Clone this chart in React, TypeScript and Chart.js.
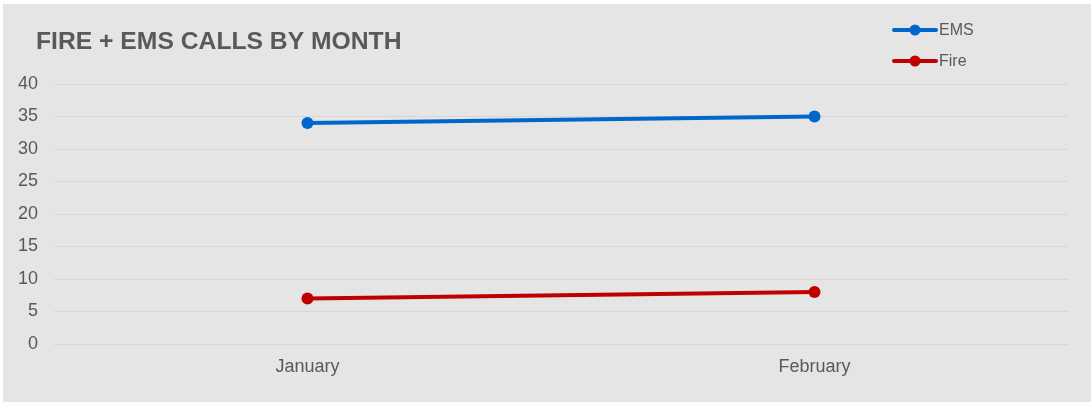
import React, { useEffect, useRef } from "react";
import { Chart, registerables } from "chart.js";

Chart.register(...registerables);

const months = ["January", "February"];
const emsCalls = [34, 35];
const fireCalls = [7, 8];
const yTicks = [0, 5, 10, 15, 20, 25, 30, 35, 40];
const titleText = "FIRE + EMS CALLS BY MONTH";

const BLUE = "#0066CC";
const RED = "#C00000";
const TEXT = "#595959";
const BG = "#E5E5E5";
const GRID = "#D6D6D6";

export default function App() {
  const ref = useRef<HTMLCanvasElement | null>(null);
  useEffect(() => {
    document.body.style.margin = "0";
    const canvas = ref.current!;
    const bgPlugin = {
      id: "bgPlugin",
      beforeDraw(chart: any) {
        const ctx = chart.ctx;
        ctx.save();
        ctx.fillStyle = "#FFFFFF";
        ctx.fillRect(0, 0, chart.width, chart.height);
        ctx.fillStyle = BG;
        ctx.fillRect(3, 4, chart.width - 3, chart.height - 6);
        ctx.restore();
      },
      afterDraw(chart: any) {
        const ctx = chart.ctx;
        ctx.save();
        ctx.fillStyle = TEXT;
        ctx.font = "bold 24.7px 'Liberation Sans', Arial, sans-serif";
        ctx.textBaseline = "middle";
        ctx.textAlign = "left";
        ctx.fillText(titleText, 36, 42);
        const items = chart.data.datasets.map((d: any) => ({ label: d.label, color: d.borderColor }));
        items.forEach((it: any, i: number) => {
          const y = 30 + i * 31;
          ctx.strokeStyle = it.color;
          ctx.lineWidth = 4;
          ctx.lineCap = "round";
          ctx.beginPath();
          ctx.moveTo(894, y);
          ctx.lineTo(936, y);
          ctx.stroke();
          ctx.fillStyle = it.color;
          ctx.beginPath();
          ctx.arc(915, y, 5.5, 0, Math.PI * 2);
          ctx.fill();
          ctx.fillStyle = TEXT;
          ctx.font = "16px 'Liberation Sans', Arial, sans-serif";
          ctx.textBaseline = "middle";
          ctx.fillText(it.label, 939, y + 1);
        });
        ctx.restore();
      },
    };
    const chart = new Chart(canvas, {
      type: "line",
      data: {
        labels: months,
        datasets: [
          {
            label: "EMS",
            data: emsCalls,
            borderColor: BLUE,
            backgroundColor: BLUE,
            borderWidth: 4,
            pointRadius: 6,
            pointHoverRadius: 6,
            pointBackgroundColor: BLUE,
            pointBorderWidth: 0,
          },
          {
            label: "Fire",
            data: fireCalls,
            borderColor: RED,
            backgroundColor: RED,
            borderWidth: 4,
            pointRadius: 6,
            pointHoverRadius: 6,
            pointBackgroundColor: RED,
            pointBorderWidth: 0,
          },
        ],
      },
      options: {
        responsive: false,
        animation: false,
        layout: { padding: { top: 84, right: 23, left: 0, bottom: 0 } },
        plugins: { legend: { display: false }, title: { display: false }, tooltip: { enabled: false } },
        scales: {
          x: {
            offset: true,
            grid: { display: false, drawTicks: false },
            border: { display: false },
            ticks: {
              color: TEXT,
              padding: 12,
              font: { family: "'Liberation Sans', Arial, sans-serif", size: 18 },
            },
            afterFit(scale: any) {
              scale.height = 60;
            },
          },
          y: {
            min: 0,
            max: 40,
            afterBuildTicks(scale: any) {
              scale.ticks = yTicks.map((v) => ({ value: v }));
            },
            grid: { color: GRID, lineWidth: 1, drawTicks: false },
            border: { display: false },
            ticks: {
              color: TEXT,
              padding: 16,
              font: { family: "'Liberation Sans', Arial, sans-serif", size: 18 },
            },
            afterFit(scale: any) {
              scale.width = 54;
            },
          },
        },
      },
      plugins: [bgPlugin],
    });
    return () => chart.destroy();
  }, []);
  return <canvas ref={ref} width={1091} height={404} style={{ display: "block" }} />;
}
